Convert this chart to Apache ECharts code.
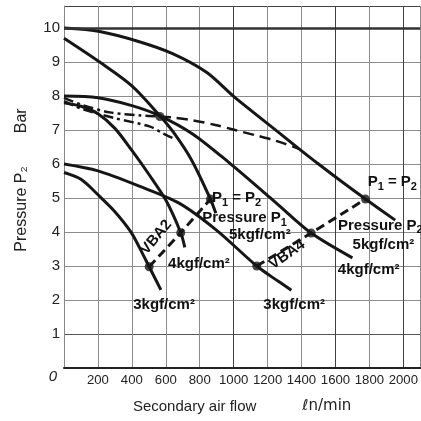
<!DOCTYPE html>
<html><head><meta charset="utf-8">
<script src="https://cdn.jsdelivr.net/npm/echarts@6/dist/echarts.min.js"></script>
<style>html,body{margin:0;padding:0;background:#fff}#c{width:421px;height:421px}</style>
</head><body><div id="c"></div>
<script>
// ---- tick values ----
const xTickValues = [0,200,400,600,800,1000,1200,1400,1600,1800,2000];
const yTickValues = [0,1,2,3,4,5,6,7,8,9,10];

// ---- curves (secondary air flow ℓn/min, pressure P2 bar) ----
const vba4_5 = [[0,10.0],[210,9.9],[444,9.6],[640,9.25],[840,8.7],[1005,7.97],[1263,6.94],[1380,6.47],[1500,6.0],[1640,5.47],[1777,4.97],[1952,4.35]];
const vba2_5 = [[0,9.7],[210,9.0],[400,8.3],[565,7.42],[650,6.9],[754,6.1],[863,4.97],[895,4.55]];
const vba4_4 = [[0,8.0],[200,7.95],[400,7.72],[565,7.42],[760,6.88],[971,6.05],[1185,5.14],[1263,4.8],[1457,3.97],[1700,3.24]];
const vba2_4 = [[0,7.8],[100,7.7],[200,7.48],[300,7.05],[400,6.4],[500,5.7],[600,4.94],[688,3.98],[712,3.55]];
const vba4_3 = [[0,6.0],[200,5.8],[444,5.35],[678,4.85],[900,4.05],[1136,3.0],[1263,2.55],[1340,2.29]];
const vba2_3 = [[0,5.75],[100,5.55],[210,5.05],[300,4.6],[395,4.0],[444,3.55],[502,2.98],[571,2.3]];
const limitA_left  = [[0,7.95],[100,7.75],[270,7.52],[450,7.43],[565,7.4]];
const limitA_right = [[565,7.4],[640,7.37],[756,7.29],[892,7.15],[1009,7.0],[1126,6.85],[1224,6.72],[1300,6.6],[1385,6.45]];
const limitB = [[0,7.85],[117,7.6],[300,7.35],[508,7.1],[584,6.9],[647,6.75]];
const p1p2_vba2 = [[502,2.98],[688,3.98],[863,4.97]];
const p1p2_vba4 = [[1136,3.0],[1457,3.97],[1777,4.97]];
const junctions = [[565,7.4]];

// ---- annotations (data coordinates) ----
const notes = [
  {t:'{p|P}{s|1}{p| = P}{s|2}', x:1017, y:4.97, r:0, a:'center'},
  {t:'{p|Pressure P}{s|1}', x:1064, y:4.38, r:0, a:'center'},
  {t:'{p|5kgf/cm²}', x:1154, y:3.88, r:0, a:'center'},
  {t:'{p|4kgf/cm²}', x:795, y:3.03, r:0, a:'center'},
  {t:'{p|3kgf/cm²}', x:590, y:1.82, r:0, a:'center'},
  {t:'{p|VBA2}', x:550, y:3.82, r:50, a:'center'},
  {t:'{p|VBA4}', x:1320, y:3.3, r:35, a:'center'},
  {t:'{p|P}{s|1}{p| = P}{s|2}', x:1935, y:5.44, r:0, a:'center'},
  {t:'{p|Pressure P}{s|2}', x:1615, y:4.15, r:0, a:'left'},
  {t:'{p|5kgf/cm²}', x:1701, y:3.59, r:0, a:'left'},
  {t:'{p|4kgf/cm²}', x:1614, y:2.85, r:0, a:'left'},
  {t:'{p|3kgf/cm²}', x:1175, y:1.82, r:0, a:'left'}
];

const INK = '#161616';
const FONT = '"Liberation Sans", Arial, sans-serif';
function solid(d){return {type:'line',data:d,showSymbol:false,smooth:0.3,lineStyle:{color:INK,width:3},silent:true,z:3};}
function dashed(d,pat,w){return {type:'line',data:d,showSymbol:false,smooth:0.3,lineStyle:{color:INK,width:w||2.5,type:pat},silent:true,z:3};}

const xLineColors = xTickValues.map(v => (v===1000||v===1600||v===2000)?'#404040':'#8c8c8c').concat(['#8c8c8c']);
const yLineColors = yTickValues.map(v => v===1?'#555':'#8c8c8c').concat(['#444']);

const chart = echarts.init(document.getElementById('c'));
chart.setOption({
  animation:false,
  backgroundColor:'#fff',
  grid:{left:64,right:-2,top:6,bottom:53,containLabel:false},
  xAxis:{type:'value',min:0,max:2100,interval:200,
    axisLine:{show:true,onZero:false,lineStyle:{color:'#222',width:2}},
    axisTick:{show:false},
    splitLine:{show:true,lineStyle:{color:xLineColors,width:1}},
    axisLabel:{color:'#222',fontSize:13.2,fontFamily:FONT,margin:6,showMaxLabel:false,
      formatter:v => (v!==0 && xTickValues.indexOf(v)>=0)?String(v):''},
    name:'{a|Secondary air flow}{b|ℓn/min}',nameLocation:'middle',nameGap:31,
    nameTextStyle:{rich:{a:{fontSize:15,color:'#222',fontFamily:FONT},
      b:{fontSize:15,color:'#222',fontFamily:'"DejaVu Sans", "Liberation Sans", sans-serif',padding:[0,0,0,46]}}}
  },
  yAxis:{type:'value',min:0,max:10.65,interval:1,
    axisLine:{show:true,onZero:false,lineStyle:{color:'#888',width:1}},
    axisTick:{show:false},
    splitLine:{show:true,lineStyle:{color:yLineColors,width:1}},
    axisLabel:{color:'#222',fontSize:15,fontFamily:FONT,margin:4,showMaxLabel:false,
      formatter:v => v===0?'{o|0}':(yTickValues.indexOf(v)>=0?String(v):''),
      rich:{o:{fontStyle:'italic',fontSize:15,color:'#222',fontFamily:FONT,padding:[17,3,0,0]}}},
    name:'{a|Pressure P₂}{b|Bar}',nameLocation:'middle',nameGap:34,nameRotate:90,
    nameTextStyle:{rich:{a:{fontSize:16,color:'#222',fontFamily:FONT,padding:[0,0,0,14]},
      b:{fontSize:16,color:'#222',fontFamily:FONT,padding:[0,0,0,33]}}}
  },
  series:[
    Object.assign(solid(vba4_5),{markLine:{silent:true,symbol:'none',label:{show:false},lineStyle:{color:'#333',width:2.5,type:'solid'},data:[{yAxis:10}]}}),
    solid(vba2_5), solid(vba4_4), solid(vba2_4), solid(vba4_3), solid(vba2_3),
    dashed(limitA_left,[10,4,3,4]), dashed(limitA_right,[11,6]), dashed(limitB,[10,4,3,4]),
    dashed(p1p2_vba2,[9,5],3), dashed(p1p2_vba4,[9,5],3),
    {type:'scatter',data:p1p2_vba2.concat(p1p2_vba4).concat(junctions),symbolSize:9,itemStyle:{color:INK},silent:true,z:5}
  ]
});

const rich = {
  p:{fontSize:15,fontWeight:'bold',fontFamily:FONT,fill:'#111',verticalAlign:'bottom',lineHeight:18,padding:[0,0,3,0]},
  s:{fontSize:11,fontWeight:'bold',fontFamily:FONT,fill:'#111',verticalAlign:'bottom',lineHeight:13}
};
const gfx = notes.map(n => {
  const p = chart.convertToPixel({gridIndex:0},[n.x,n.y]);
  return {type:'text',x:p[0],y:p[1],rotation:n.r*Math.PI/180,z:10,
    style:{text:n.t,rich:rich,fill:'#111',font:'bold 15px '+FONT,align:n.a,verticalAlign:'middle'}};
});
chart.setOption({graphic:gfx});
</script></body></html>
